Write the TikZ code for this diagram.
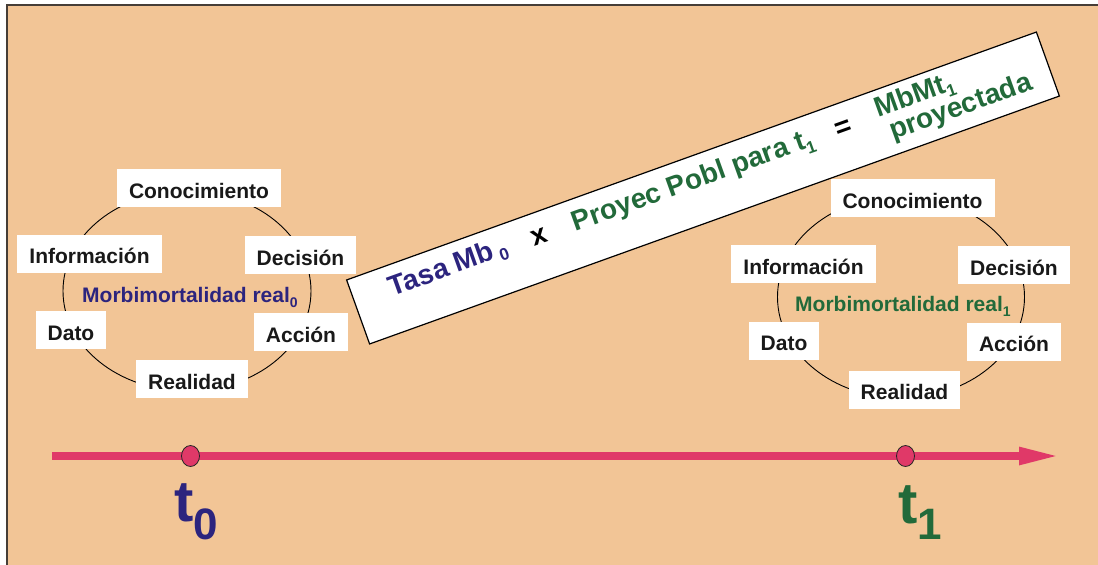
\documentclass[tikz,border=0pt]{standalone}
\usepackage{fontspec}
\setmainfont{Liberation Sans}
\usetikzlibrary{arrows.meta,shapes.geometric}
\definecolor{bgorange}{RGB}{242,197,150}
\definecolor{framegray}{RGB}{70,62,55}
\definecolor{navy}{RGB}{44,36,126}
\definecolor{dkgreen}{RGB}{34,106,58}
\definecolor{axispink}{RGB}{224,57,104}
\newcommand{\fs}[1]{\fontsize{#1}{#1}\selectfont}
\newcommand{\lowsub}[3]{\raisebox{-#2pt}{\fs{#1}#3}}
\begin{document}
\begin{tikzpicture}[x=1pt,y=-1pt,
  lbl/.style={fill=white, inner xsep=12pt, inner ysep=5pt, text height=24pt,
              text depth=4pt, font=\fs{21}\bfseries, text=black!90},
  cyc/.style={draw=black, line width=0.9pt},
  bantext/.style={anchor=base west, inner sep=0pt, font=\fs{28}\bfseries},
  dotmark/.style={ellipse, minimum width=18pt, minimum height=21pt, inner sep=0pt,
                  fill=axispink, draw=black!85, line width=0.8pt},
  tlabel/.style={anchor=base west, inner sep=0pt, font=\fs{58}\bfseries}]
\useasboundingbox (0,0) rectangle (1098,565);
% slide background and frame
\fill[white] (0,0) rectangle (1098,565);
\fill[bgorange] (7,5) rectangle (1098,565);
\draw[framegray, line width=1.5pt] (7,565) -- (7,5) -- (1098,5);

% ---- cycle at t0 ----
\draw[cyc] (187,291) ellipse [x radius=124, y radius=100];
\node[anchor=base west, inner sep=0pt, font=\fs{21}\bfseries, text=navy] (mm0) at (82,302)
  {Morbimortalidad real\lowsub{14}{5}{0}};
\node[lbl] (con0) at (199,188)   {Conocimiento};
\node[lbl] (inf0) at (89.5,253.5) {Información};
\node[lbl] (dec0) at (300.5,255) {Decisión};
\node[lbl] (dat0) at (71,330)    {Dato};
\node[lbl] (acc0) at (301,332)   {Acción};
\node[lbl] (rea0) at (192,379)   {Realidad};

% ---- cycle at t1 ----
\draw[cyc] (901,297) ellipse [x radius=123.5, y radius=101];
\node[anchor=base west, inner sep=0pt, font=\fs{21}\bfseries, text=dkgreen] (mm1) at (795,311)
  {Morbimortalidad real\lowsub{14}{5}{1}};
\node[lbl] (con1) at (912.5,198) {Conocimiento};
\node[lbl] (inf1) at (803.5,264) {Información};
\node[lbl] (dec1) at (1014,265)  {Decisión};
\node[lbl] (dat1) at (784,340.5) {Dato};
\node[lbl] (acc1) at (1014,341.5) {Acción};
\node[lbl] (rea1) at (904.5,389.5) {Realidad};

% ---- tilted formula banner ----
\begin{scope}[shift={(703,188)}, rotate=19.77, transform shape]
  \node[draw=black, fill=white, line width=1.2pt, minimum width=733pt,
        minimum height=68pt, inner sep=0pt] (banner) at (0,0) {};
  \node[bantext, text=navy] (tasa) at (-329,-3) {Tasa Mb\,\lowsub{17}{4}{0}};
  \node[bantext, anchor=base, text=black] (times) at (-171,-2) {x};
  \node[bantext, text=dkgreen] (proy) at (-135,-2) {Proyec Pobl para t\lowsub{17}{6}{1}};
  \node[bantext, anchor=base, text=black] (eq) at (152,-1) {=};
  \node[bantext, text=dkgreen] (mbmt) at (189,-7) {MbMt\lowsub{17}{5}{1}};
  \node[bantext, text=dkgreen] (proyd) at (195,19) {proyectada};
\end{scope}

% ---- time axis ----
\coordinate (axstart) at (52,456);
\coordinate (axend) at (1061,456);
\draw[axispink, line width=8pt, -{Triangle[length=42pt,width=16pt]}] (axstart) -- (axend);
\node[dotmark] (p0) at (190.5,456) {};
\node[dotmark] (p1) at (905.5,456) {};
\node[tlabel, text=navy] (t0) at (174,521.5) {t\lowsub{44}{18}{0}};
\node[tlabel, text=dkgreen] (t1) at (898,523) {t\lowsub{44}{16}{1}};
\end{tikzpicture}
\end{document}
